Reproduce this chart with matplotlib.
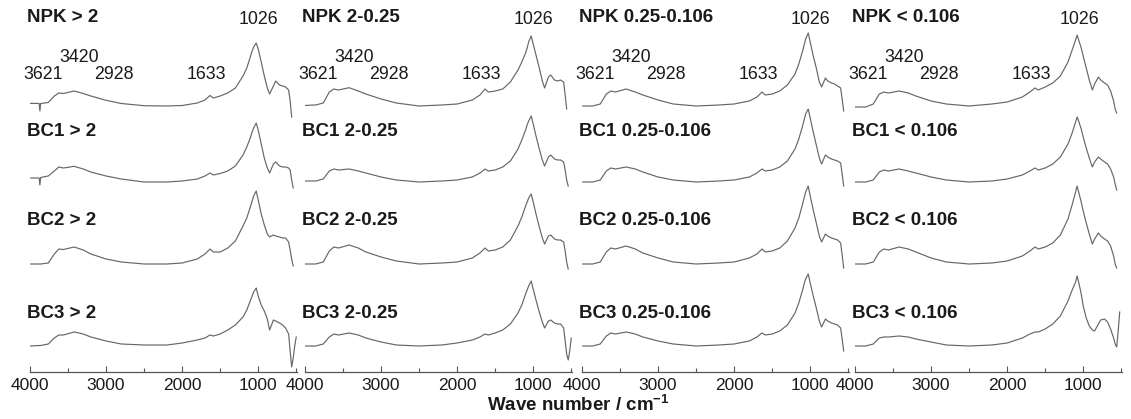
import numpy as np
import matplotlib.pyplot as plt
from matplotlib.ticker import FixedLocator

N = np.nan

# ---------------- data ----------------
WAVENUMBER = [4000, 3880, 3870, 3860, 3760, 3680, 3621, 3560, 3420, 3300, 3200, 3000,
              2800, 2500, 2200, 2000, 1800, 1700, 1633, 1590, 1500, 1400, 1300, 1200,
              1150, 1100, 1080, 1060, 1026, 1000, 960, 920, 880, 850, 800, 770, 720,
              680, 640, 600, 580, 560, 540, 520, 500]

TREATMENTS = ["NPK", "BC1", "BC2", "BC3"]
FRACTIONS = ["> 2", "2-0.25", "0.25-0.106", "< 0.106"]
PEAK_LABELS = ["3621", "3420", "2928", "1633", "1026"]
TICKS = [4000, 3000, 2000, 1000]
MINOR_TICKS = [3500, 2500, 1500, 500]
X_LABEL = r"Wave number / cm$^{\mathbf{-1}}$"

# absorbance (arbitrary units) for fraction > 2
NPK_GT2 = [2.7, 2.5, -5, 2.5, 3.5, 10, 13, 12.5, 15, 12.5, 10, 5.7, 2.5, 0.3, 0, 0.5, 3, 6, 10.5, 8, 10, 13, 18, 30, 38, 50, 55, 59, 63, 57, 44, 30, 18, 12, 20, 25, 21, 20, 19, 16, 5, -11, N, N, N]
BC1_GT2 = [4, 4, -3, 4.5, 6, 11, 15, 14, 15.7, 13, 10, 6, 3, 0, 0, 1, 3, 6, 9, 7, 8.5, 11, 16, 27, 35, 45, 50, 54, 59, 52, 38, 24, 14, 9, 18, 20, 16, 15, 15, 14, 12, 2, -6, N, N]
BC2_GT2 = [0, 0, 0, 0, 1, 10, 15, 14.5, 17, 14, 10, 5, 2, 0, 0, 1, 5, 10, 15, 12, 12, 16, 23, 38, 46, 58, 63, 68, 73, 64, 50, 39, 30, 27, 29, 28, 27, 26, 26, 22, 14, 5, -2, N, N]
BC3_GT2 = [0, 0.5, 0.5, 0.5, 2, 8, 11, 11, 14, 12, 9, 5, 2, 1, 1, 3, 6, 8, 11, 10, 12, 16, 21, 29, 36, 46, 50, 54, 58, 50, 41, 35, 27, 16, 26, 25, 23, 21, 18, 12, -5, -21, -12, 0, 9]

# fraction 2-0.25
NPK_2 = [0.5, 1, 1, 1, 3, 14, 17, 16, 18.3, 15, 12, 7, 3, 0, 1, 2, 6, 11, 17, 14, 15, 17, 24, 36, 44, 53, 58, 64, 70, 62, 50, 38, 25, 18, 29, 31, 26, 25, 26, 24, 11, -3, N, N, N]
BC1_2 = [1, 1, 1, 1, 3, 11, 13, 12, 13, 11, 9, 5, 2, 0, 1, 2, 5, 9, 13, 11, 12, 15, 21, 33, 42, 52, 57, 61, 66, 58, 45, 33, 22, 16, 25, 27, 23, 22, 22, 20, 12, 2, -4, N, N]
BC2_2 = [0, 0, 0, 0, 2, 13, 17, 16, 19, 16, 12, 7, 3, 0, 1, 2, 6, 11, 16, 13, 14, 17, 24, 38, 47, 58, 62, 66, 70, 62, 49, 37, 26, 20, 28, 29, 25, 24, 24, 22, 13, 2, -5, N, N]
BC3_2 = [0, 0, 0, 0, 2, 9, 12, 11, 13, 11, 8, 4, 1, 0, 1, 3, 6, 9, 12, 11, 13, 16, 22, 33, 41, 52, 56, 60, 65, 57, 45, 34, 24, 18, 25, 26, 23, 22, 22, 18, 5, -8, -14, -5, 8]

# fraction 0.25-0.106
NPK_3 = [0, 0, 0, 0, 2, 12, 15, 14, 17, 14, 11, 6, 2, 0, 1, 2, 5, 9, 14, 11, 12, 15, 21, 32, 42, 55, 61, 67, 73, 64, 50, 38, 24, 19, 28, 25, 23, 22, 20, 18, 7, -5, N, N, N]
BC1_3 = [0, 0, 0, 0, 2, 11, 14, 13, 15, 13, 10, 5, 2, 0, 1, 2, 5, 9, 13, 11, 12, 15, 21, 33, 43, 56, 62, 68, 73, 64, 50, 37, 24, 18, 27, 25, 23, 22, 21, 19, 8, -4, N, N, N]
BC2_3 = [0, 0, 0, 0, 2, 12, 16, 15, 18, 15, 11, 6, 2, 0, 1, 2, 6, 10, 15, 12, 13, 16, 23, 36, 46, 60, 66, 72, 78, 68, 54, 41, 28, 22, 30, 28, 26, 25, 24, 21, 9, -4, N, N, N]
BC3_3 = [0, 0, 0, 0, 2, 10, 13, 12, 14, 12, 9, 5, 2, 0, 1, 2, 5, 9, 13, 11, 12, 15, 21, 33, 43, 56, 62, 67, 72, 63, 50, 38, 25, 19, 27, 25, 23, 22, 21, 18, 7, -5, N, N, N]

# fraction < 0.106
NPK_4 = [-1, -1, -1, -1, 2, 12, 14, 13, 15, 13, 10, 5, 2, 0, 2, 4, 9, 14, 18, 16, 19, 23, 30, 44, 55, 66, 71, 66, 58, 50, 38, 26, 16, 22, 29, 26, 23, 21, 15, 5, -3, -7, N, N, N]
BC1_4 = [0, 0, 0, 0, 2, 10, 12, 11, 13, 11, 9, 5, 2, 0, 1, 3, 7, 11, 14, 12, 14, 18, 25, 38, 48, 60, 65, 61, 53, 45, 34, 24, 15, 20, 25, 23, 20, 18, 13, 5, -2, -8, N, N, N]
BC2_4 = [0, 0, 0, 0, 2, 12, 15, 14, 17, 15, 12, 6, 2, 0, 1, 3, 8, 13, 17, 15, 17, 21, 29, 45, 58, 72, 78, 72, 62, 53, 41, 30, 20, 25, 31, 28, 25, 23, 18, 8, 0, -4, N, N, N]
BC3_4 = [0, 0, 0, 0, 2, 8, 9, 9, 10, 9, 7, 4, 1, 0, 1, 3, 8, 12, 14, 14, 17, 22, 30, 45, 55, 64, 70, 64, 52, 40, 28, 20, 16, 15, 22, 26, 27, 24, 17, 8, 2, -1, 15, 34, N]

SPECTRA = [
    [NPK_GT2, BC1_GT2, BC2_GT2, BC3_GT2],
    [NPK_2, BC1_2, BC2_2, BC3_2],
    [NPK_3, BC1_3, BC2_3, BC3_3],
    [NPK_4, BC1_4, BC2_4, BC3_4],
]

# ---------------- layout ----------------
FIG_W, FIG_H = 1131, 419
AX_LEFTS = [30, 305, 582, 855]
AX_W = 267
SPINE_Y = 372
OFFSETS = [266, 190, 108, 26]          # vertical stacking of spectra
NAME_Y = [355, 240, 152, 59]          # sample label centres
PEAK_TEXT_Y = {"1026": 353, "3420": 314.5}
PEAK_TEXT_Y_DEFAULT = 297.5
PEAK_DX_PX = {"3621": -16, "3420": 4.6, "2928": 2, "1633": -3.6, "1026": 2}

LINE_COLOR = "#666666"
TEXT_COLOR = "#1a1a1a"
FONT = ["Liberation Sans", "DejaVu Sans"]

plt.rcParams["font.family"] = FONT
plt.rcParams["mathtext.fontset"] = "custom"
plt.rcParams["mathtext.rm"] = "Liberation Sans"
plt.rcParams["mathtext.bf"] = "Liberation Sans:bold"

fig = plt.figure(figsize=(FIG_W / 100, FIG_H / 100), dpi=100)
wn = np.array(WAVENUMBER, dtype=float)

for p, frac in enumerate(FRACTIONS):
    ax = fig.add_axes([AX_LEFTS[p] / FIG_W, (FIG_H - SPINE_Y) / FIG_H,
                       AX_W / FIG_W, SPINE_Y / FIG_H])
    ax.set_xlim(4000, 490)
    ax.set_ylim(0, SPINE_Y)
    ax.patch.set_alpha(0)
    for s in ["top", "left", "right"]:
        ax.spines[s].set_visible(False)
    ax.spines["bottom"].set_color("#555555")
    ax.spines["bottom"].set_linewidth(0.9)
    ax.set_yticks([])
    ax.xaxis.set_major_locator(FixedLocator(TICKS))
    ax.xaxis.set_minor_locator(FixedLocator(MINOR_TICKS))
    ax.set_xticklabels([str(t) for t in TICKS])
    ax.tick_params(axis="x", which="major", direction="in", length=4, width=0.8,
                   color="#555555", labelsize=12.5, labelcolor=TEXT_COLOR, pad=4)
    ax.tick_params(axis="x", which="minor", direction="in", length=3, width=0.8,
                   color="#555555")

    for r, treat in enumerate(TREATMENTS):
        y = np.array(SPECTRA[p][r], dtype=float)
        ax.plot(wn, y + OFFSETS[r], color=LINE_COLOR, lw=0.85, solid_joinstyle="round")
        ax.text(-0.011, NAME_Y[r], f"{treat} {frac}", transform=ax.get_yaxis_transform(),
                ha="left", va="center", fontsize=13.5, fontweight="bold",
                color=TEXT_COLOR)

    # peak labels on the top spectrum
    top = np.array(SPECTRA[p][0], dtype=float)
    for lab in PEAK_LABELS:
        if lab == "1026":
            xpos = wn[np.nanargmax(top)]
        else:
            xpos = float(lab)
        ty = PEAK_TEXT_Y.get(lab, PEAK_TEXT_Y_DEFAULT)
        ax.annotate(lab, xy=(xpos, ty), xytext=(PEAK_DX_PX[lab] * 0.72, 0),
                    textcoords="offset points", ha="center", va="center",
                    fontsize=12.8, color=TEXT_COLOR)

fig.text(578 / FIG_W, 1 - 405 / FIG_H, X_LABEL, ha="center", va="center",
         fontsize=13.5, fontweight="bold", color=TEXT_COLOR)

fig.savefig("out.png", dpi=100)
